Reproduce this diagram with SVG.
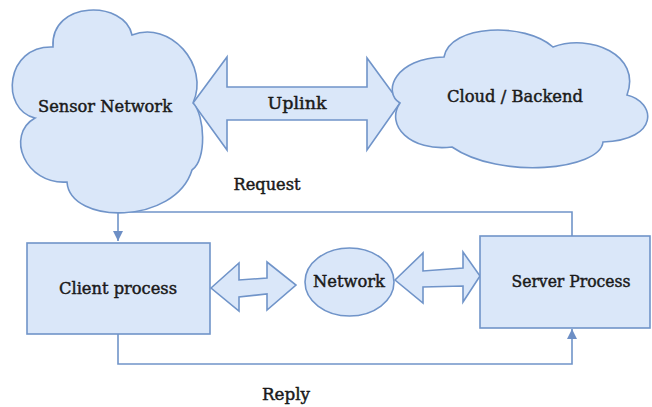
<svg xmlns="http://www.w3.org/2000/svg" width="652" height="407" viewBox="0 0 652 407">
<style>
.shape{fill:#dae7f9;stroke:#7094c9;stroke-width:1.6;stroke-linejoin:miter}
.line{fill:none;stroke:#7094c9;stroke-width:1.6}
.lbl{font-family:"DejaVu Serif",serif;font-size:16px;fill:#1a1a1a;stroke:#1a1a1a;stroke-width:0.45;text-anchor:middle}
</style>
<defs>
<marker id="ah" viewBox="0 0 10 10" refX="10" refY="5" markerWidth="10" markerHeight="10" markerUnits="userSpaceOnUse" orient="auto">
<path d="M0,0 L10,5 L0,10 Z" fill="#6d8fc5"/>
</marker>
</defs>
<rect width="652" height="407" fill="#ffffff"/>
<g id="connectors">
<path class="line" d="M572,236 V212 H118 V241" marker-end="url(#ah)"/>
<path class="line" d="M118,334 V364 H572 V329" marker-end="url(#ah)"/>
<polygon class="shape" points="193,103 227,57 227,87 367,87 367,58 400,103 367,150 367,120 227,120 227,150"/>
<polygon class="shape" points="211,288 239,263 239,280 267,278 267,262 296,285 267,310 267,294 239,297 239,311"/>
<polygon class="shape" points="395,280 423,253 423,271 463,268 463,252 480,276 463,302 463,286 423,287 423,303"/>
<text class="lbl" x="297" y="109" textLength="59" lengthAdjust="spacingAndGlyphs">Uplink</text>
<text class="lbl" x="267" y="190" textLength="67" lengthAdjust="spacingAndGlyphs">Request</text>
<text class="lbl" x="286" y="400" textLength="48" lengthAdjust="spacingAndGlyphs">Reply</text>
</g>
<g id="sensor-network">
<path class="shape" d="M53,47 C50,0 125,0 132,35 C170,20 210,65 193,103 C205,115 207,160 192,170 C175,225 70,225 67,182 C25,185 5,135 35,118 C0,110 5,45 53,47 Z"/>
<text class="lbl" x="105" y="112" textLength="134" lengthAdjust="spacingAndGlyphs">Sensor Network</text>
</g>
<g id="cloud-backend">
<path class="shape" d="M400,103 C382,92 395,58 444,57 C450,24 525,22 553,47 C590,33 642,55 627,95 C656,102 660,140 603,142 C600,170 500,180 452,147 C410,152 385,125 400,103 Z"/>
<text class="lbl" x="515" y="102" textLength="136" lengthAdjust="spacingAndGlyphs">Cloud / Backend</text>
</g>
<g id="client-process">
<rect class="shape" x="27" y="243" width="183" height="91"/>
<text class="lbl" x="118" y="294" textLength="118" lengthAdjust="spacingAndGlyphs">Client process</text>
</g>
<g id="network">
<ellipse class="shape" cx="349.5" cy="282" rx="44.5" ry="34"/>
<text class="lbl" x="349" y="287" textLength="72" lengthAdjust="spacingAndGlyphs">Network</text>
</g>
<g id="server-process">
<rect class="shape" x="480" y="236" width="170" height="92"/>
<text class="lbl" x="571" y="287" textLength="119" lengthAdjust="spacingAndGlyphs">Server Process</text>
</g>
</svg>
